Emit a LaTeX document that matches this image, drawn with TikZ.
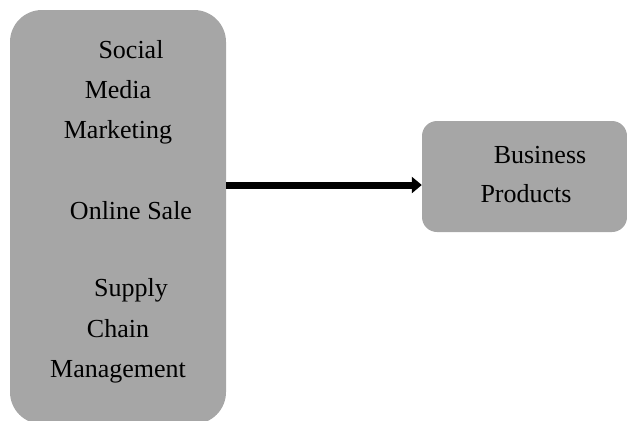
\documentclass[tikz,border=0pt]{standalone}
\usepackage{fontspec}
\setmainfont{Liberation Serif}
\usetikzlibrary{arrows.meta}
\definecolor{boxgray}{HTML}{A6A6A6}
\tikzset{
  box/.style={fill=boxgray, draw=none},
  lbl/.style={anchor=base, inner sep=0pt, font=\fontsize{26bp}{30bp}\selectfont, text=black},
  conn/.style={line width=7bp, -{Triangle[length=10bp,width=16bp]}}
}
\begin{document}
\begin{tikzpicture}[x=1bp,y=-1bp]
\useasboundingbox (0,0) rectangle (627,420);
% boxes
\path[box, rounded corners=32bp] (10,10) rectangle (226,424);
\node[box, rounded corners=15bp, minimum width=205bp, minimum height=111bp, inner sep=0pt] (bp) at (524.5,176.5) {};
\coordinate (lb) at (226,185);
% labels left
\node[lbl] (t1) at (131,58) {Social};
\node[lbl] (t2) at (118,98) {Media};
\node[lbl] (t3) at (118,138) {Marketing};
\node[lbl] (t4) at (131,219) {Online Sale};
\node[lbl] (t5) at (131,296) {Supply};
\node[lbl] (t6) at (118,337) {Chain};
\node[lbl] (t7) at (118,377) {Management};
% labels right
\node[lbl] (r1) at (540,163) {Business};
\node[lbl] (r2) at (526,202) {Products};
% connector
\draw[conn] (lb) -- (bp.west |- lb);
\end{tikzpicture}
\end{document}
